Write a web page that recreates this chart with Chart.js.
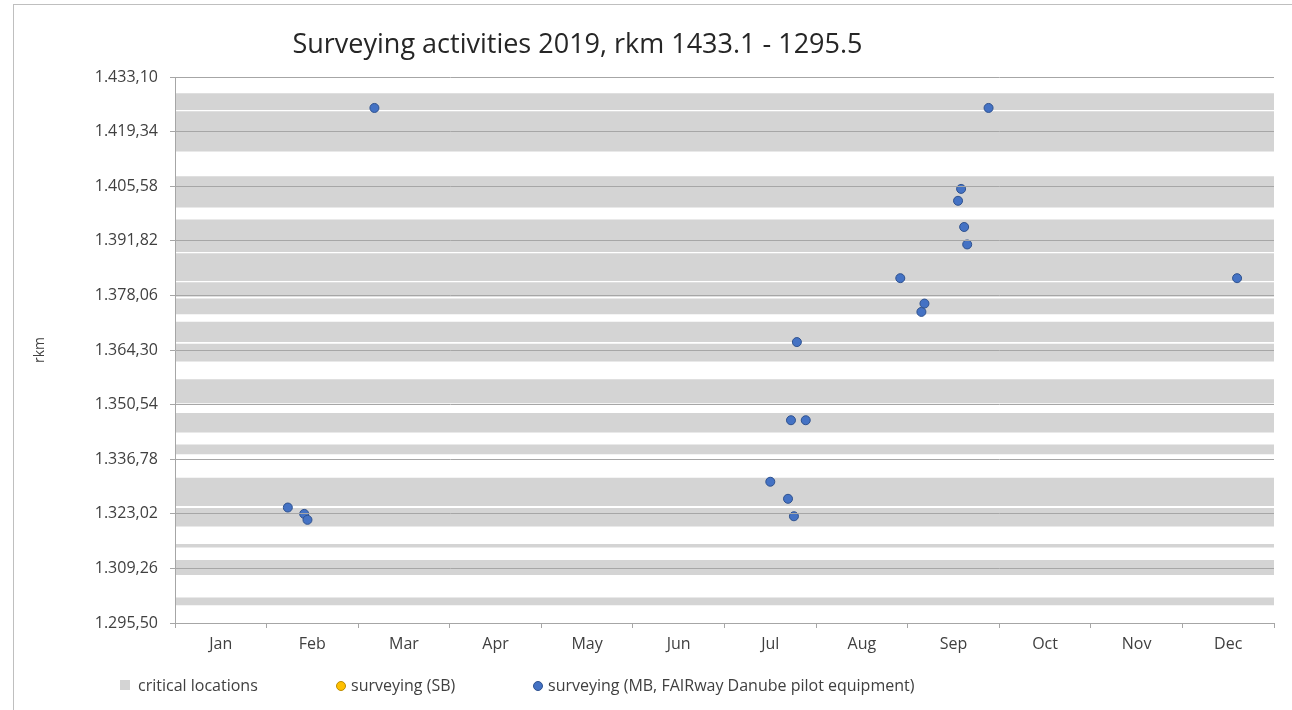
<!DOCTYPE html>
<html>
<head>
<meta charset="utf-8">
<script src="https://cdn.jsdelivr.net/npm/chart.js@4.4.1/dist/chart.umd.min.js"></script>
<style>
  body { margin: 0; background: #fff; font-family: "Open Sans", sans-serif; }
  #wrap { position: relative; width: 1292px; height: 710px; overflow: hidden; }
  #frame { position: absolute; left: 13px; top: 4px; width: 1300px; height: 720px;
           border-top: 1px solid #BFBFBF; border-left: 1px solid #BFBFBF; }
  canvas { position: absolute; left: 0; top: 0; }
  #title { position: absolute; left: 0; top: 24px; width: 1155px; text-align: center;
           font-size: 27px; color: #262626; white-space: nowrap; }
  .leg { position: absolute; top: 675px; font-size: 16px; line-height: 20px; color: #404040; white-space: nowrap; }
  .sq { position: absolute; top: 680px; width: 10px; height: 10px; background: #D4D4D4; }
  .dot { position: absolute; top: 681px; width: 8px; height: 8px; border-radius: 50%; }
</style>
</head>
<body>
<div id="wrap">
  <div id="frame"></div>
  <canvas id="chart" width="1292" height="710"></canvas>
  <div id="title">Surveying activities 2019, rkm 1433.1 - 1295.5</div>
  <div class="sq" style="left:120px"></div>
  <div class="leg" style="left:138px">critical locations</div>
  <div class="dot" style="left:336px; background:#FFC000; border:1px solid #BC8C00"></div>
  <div class="leg" style="left:351px">surveying (SB)</div>
  <div class="dot" style="left:533px; background:#4472C4; border:1px solid #2F528F"></div>
  <div class="leg" style="left:548px">surveying (MB, FAIRway Danube pilot equipment)</div>
</div>
<script>
// month labels and y ticks (rkm)
const months = ['Jan', 'Feb', 'Mar', 'Apr', 'May', 'Jun', 'Jul', 'Aug', 'Sep', 'Oct', 'Nov', 'Dec'];
const yTicks = [1295.50, 1309.26, 1323.02, 1336.78, 1350.54, 1364.30, 1378.06, 1391.82, 1405.58, 1419.34, 1433.10];

// critical locations (rkm from / to)
const bandTop = [1429.0, 1424.5, 1408.1, 1397.2, 1388.7, 1381.4, 1377.3, 1371.4, 1365.9, 1356.9, 1348.4, 1340.5, 1332.1, 1324.5, 1315.4, 1311.4, 1301.9];
const bandBottom = [1424.8, 1414.3, 1400.2, 1389.0, 1381.7, 1377.7, 1373.3, 1366.3, 1361.4, 1350.9, 1343.5, 1338.0, 1325.0, 1319.8, 1314.5, 1307.6, 1300.0];

// surveying (SB) - no entries
const sbDates = [];
const sbRkm = [];

// surveying (MB, FAIRway Danube pilot equipment)
const mbDates = ['2019-02-07', '2019-02-12', '2019-02-13', '2019-03-06', '2019-07-16', '2019-07-22', '2019-07-23',
  '2019-07-24', '2019-07-25', '2019-07-28', '2019-08-29', '2019-09-05', '2019-09-06', '2019-09-17', '2019-09-18',
  '2019-09-19', '2019-09-20', '2019-09-27', '2019-12-19'];
const mbRkm = [1324.6, 1323.0, 1321.5, 1425.3, 1331.1, 1326.8, 1346.6,
  1322.4, 1366.3, 1346.6, 1382.4, 1373.9, 1376.0, 1401.9, 1404.9,
  1395.3, 1390.9, 1425.3, 1382.4];

// date -> position on month axis (0 = start of Jan, 12 = end of Dec)
function monthPos(s) {
    const d = new Date(s + 'T00:00:00');
    const days = new Date(d.getFullYear(), d.getMonth() + 1, 0).getDate();
    return d.getMonth() + (d.getDate() - 0.5) / days;
}

function fmt(v) {
    const parts = v.toFixed(2).split('.');
    return parts[0].replace(/\B(?=(\d{3})+(?!\d))/g, '.') + ',' + parts[1];
}

const datasets = [];
bandTop.forEach((top, i) => {
    datasets.push({
        type: 'line',
        order: 2,
        data: [{ x: 0, y: top }, { x: 12, y: top }],
        fill: '+1',
        backgroundColor: '#D4D4D4',
        borderWidth: 0,
        pointRadius: 0
    });
    datasets.push({
        type: 'line',
        order: 2,
        data: [{ x: 0, y: bandBottom[i] }, { x: 12, y: bandBottom[i] }],
        fill: false,
        borderWidth: 0,
        pointRadius: 0
    });
});

datasets.push({
    label: 'surveying (SB)',
    order: 0,
    data: sbDates.map((d, i) => ({ x: monthPos(d), y: sbRkm[i] })),
    backgroundColor: '#FFC000',
    borderColor: '#BC8C00',
    borderWidth: 1,
    pointRadius: 4.5
});
datasets.push({
    label: 'surveying (MB, FAIRway Danube pilot equipment)',
    order: 0,
    data: mbDates.map((d, i) => ({ x: monthPos(d), y: mbRkm[i] })),
    backgroundColor: '#4472C4',
    borderColor: '#2F528F',
    borderWidth: 1,
    pointRadius: 4.5
});

Chart.defaults.font.family = '"Open Sans", sans-serif';
Chart.defaults.color = '#404040';

new Chart(document.getElementById('chart'), {
    type: 'scatter',
    data: { datasets: datasets },
    options: {
        responsive: false,
        animation: false,
        layout: { padding: { top: 77, left: 24, right: 18, bottom: 55 } },
        plugins: {
            legend: { display: false },
            tooltip: { enabled: false }
        },
        scales: {
            x: {
                type: 'linear',
                min: 0,
                max: 12,
                afterBuildTicks: scale => {
                    scale.ticks = [];
                    for (let i = 0; i <= months.length * 2; i++) scale.ticks.push({ value: i / 2 });
                },
                afterFit: scale => { scale.height = 32; },
                ticks: {
                    autoSkip: false,
                    maxRotation: 0,
                    padding: 7,
                    font: { size: 16 },
                    callback: v => (v % 1 === 0.5 ? months[Math.floor(v)] : '')
                },
                grid: {
                    drawOnChartArea: false,
                    tickLength: 5,
                    tickColor: ctx => (ctx.tick && ctx.tick.value % 1 === 0 ? '#A6A6A6' : 'rgba(0,0,0,0)')
                },
                border: { color: '#A6A6A6', z: 1 }
            },
            y: {
                min: 1295.5,
                max: 1433.1,
                afterBuildTicks: scale => { scale.ticks = yTicks.map(v => ({ value: v })); },
                afterFit: scale => { scale.width = 151; },
                ticks: {
                    padding: 12,
                    font: { size: 16 },
                    callback: v => fmt(v)
                },
                // grid and axis line above the critical-location bands
                grid: { color: '#A6A6A6', tickLength: 5, z: 1 },
                border: { color: '#A6A6A6', z: 1 },
                title: {
                    display: true,
                    text: 'rkm',
                    color: '#404040',
                    font: { size: 14 },
                    padding: { top: 8, bottom: 0 }
                }
            }
        }
    }
});
</script>
</body>
</html>
